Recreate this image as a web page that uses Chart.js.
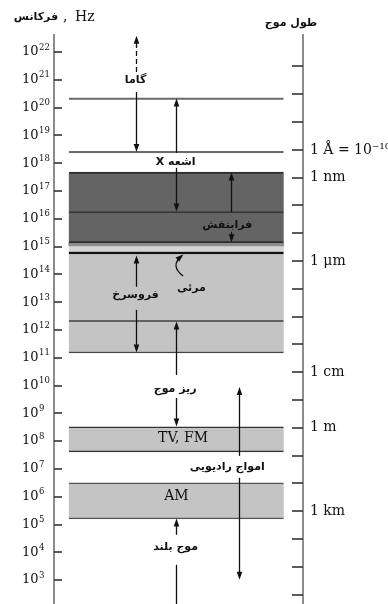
<!DOCTYPE html>
<html>
<head>
<meta charset="utf-8">
<script src="https://cdn.jsdelivr.net/npm/chart.js@4.4.1/dist/chart.umd.min.js"></script>
<style>
  html, body { margin: 0; padding: 0; background: #fff; }
</style>
</head>
<body>
<canvas id="chart" width="388" height="604"></canvas>
<script>
// frequency axis: powers of ten (Hz)
let freqExps = [3, 4, 5, 6, 7, 8, 9, 10, 11, 12, 13, 14, 15, 16, 17, 18, 19, 20, 21, 22];
// wavelength axis: powers of ten (m), f = c / lambda
let waveExps = [-13, -12, -11, -10, -9, -8, -7, -6, -5, -4, -3, -2, -1, 0, 1, 2, 3, 4, 5, 6];
let waveLabels = ['', '', '', '1 Å = 10⁻¹⁰m', '1 nm', '', '', '1 μm', '', '', '', '1 cm', '', '1 m', '', '', '1 km', '', '', ''];
const LOG_C = Math.log10(2.998e8);

// bands, as log10 of frequency
let bands = ['gamma-x', 'x-uv', 'uv', 'violet', 'visible', 'ir-near', 'ir-far', 'tv-fm', 'am'];
let bandLow = [18.37, 16.24, 15.13, 15.02, 14.73, 12.32, 11.17, 7.61, 5.20];
let bandHigh = [20.35, 17.68, 16.24, 15.13, 15.02, 14.73, 12.32, 8.51, 6.50];
let bandFill = ['rgba(0,0,0,0)', '#646464', '#646464', '#8e8e8e', '#d4d4d4', '#c4c4c4', '#c4c4c4', '#c4c4c4', '#c4c4c4'];
let bandEdge = ['#6a6a6a', '#2e2e2e', '#2e2e2e', '#2e2e2e', '#111', '#444', '#444', '#333', '#555'];
let bandEdgeW = [
  {top: 1.5, bottom: 1.5, left: 0, right: 0},
  {top: 2, bottom: 1, left: 0, right: 0},
  {top: 1, bottom: 2, left: 0, right: 0},
  {top: 0, bottom: 0, left: 0, right: 0},
  {top: 0, bottom: 2.5, left: 0, right: 0},
  {top: 0, bottom: 1, left: 0, right: 0},
  {top: 1, bottom: 1.5, left: 0, right: 0},
  {top: 1.5, bottom: 1.5, left: 0, right: 0},
  {top: 1.5, bottom: 1.5, left: 0, right: 0}
];

// names and where they sit (log10 f)
let names = ['گاما', 'اشعه X', 'فرابنفش', 'مرئی', 'فروسرخ', 'ریز موج', 'TV, FM', 'امواج رادیویی', 'AM', 'موج بلند'];
let nameAt = [20.99, 18.04, 15.78, 13.51, 13.26, 9.88, 8.11, 7.07, 6.03, 4.19];
let nameCol = [29.3, 48.6, 73.5, 56.2, 29.3, 48.4, 52.2, 73.5, 49, 48.6];
let nameLatin = [false, false, false, false, false, false, true, false, true, false];

// arrows, from -> to (log10 f), head at "to"
let arrowFrom = [21.28, 20.56, 18.37, 17.83, 16.24, 15.53, 13.55, 12.72, 10.38, 9.55, 7.47, 6.68, 4.63, 3.55];
let arrowTo = [22.58, 18.40, 20.33, 16.26, 17.66, 15.15, 14.68, 11.19, 12.30, 8.53, 9.95, 3.01, 5.22, 2.14];
let arrowCol = [29.3, 29.3, 49, 49, 75.1, 75.1, 29.3, 29.3, 49, 49, 79.1, 79.1, 49, 49];
let arrowDash = [true, false, false, false, false, false, false, false, false, false, false, false, false, false];
let arrowHead = [true, true, true, true, true, true, true, true, true, true, true, true, true, false];

// bent pointer to the visible strip
let curveX = [52.2, 45.8, 51.4];
let curveY = [13.94, 14.30, 14.66];

const BAND_COL = 48.9;
const PERSIAN = 'bold 11px "DejaVu Sans"';

function head(ctx, x, y, dx, dy) {
  const len = Math.hypot(dx, dy);
  const ux = dx / len, uy = dy / len;
  ctx.beginPath();
  ctx.moveTo(x, y);
  ctx.lineTo(x - ux * 8 - uy * 2.8, y - uy * 8 + ux * 2.8);
  ctx.lineTo(x - ux * 8 + uy * 2.8, y - uy * 8 - ux * 2.8);
  ctx.closePath();
  ctx.fill();
}

const overlay = {
  id: 'overlay',
  afterDraw(chart) {
    const {ctx, chartArea: a, scales: {x, y, y2}} = chart;
    ctx.save();

    // tick marks point inward
    ctx.strokeStyle = '#333';
    ctx.lineWidth = 1.6;
    y.ticks.forEach(t => {
      const py = Math.round(y.getPixelForValue(t.value));
      ctx.beginPath(); ctx.moveTo(a.left, py); ctx.lineTo(a.left + 8, py); ctx.stroke();
    });
    y2.ticks.forEach(t => {
      const py = Math.round(y2.getPixelForValue(t.value));
      ctx.beginPath(); ctx.moveTo(a.right - 11, py); ctx.lineTo(a.right, py); ctx.stroke();
    });

    // 10^n labels on the frequency axis
    ctx.fillStyle = '#111';
    ctx.textBaseline = 'middle';
    ctx.textAlign = 'left';
    y.ticks.forEach(t => {
      const py = y.getPixelForValue(t.value);
      ctx.font = '13px "DejaVu Serif"';
      ctx.fillText('10', 22, py);
      const w = ctx.measureText('10').width;
      ctx.font = '8.5px "DejaVu Serif"';
      ctx.fillText(String(t.value), 22 + w + 0.5, py - 4.5);
    });

    // arrows
    ctx.strokeStyle = '#111';
    ctx.lineWidth = 1.3;
    arrowFrom.forEach((f, i) => {
      const px = Math.round(x.getPixelForValue(arrowCol[i])) + 0.5;
      const p0 = y.getPixelForValue(f);
      const p1 = y.getPixelForValue(arrowTo[i]);
      const dir = Math.sign(p1 - p0);
      ctx.setLineDash(arrowDash[i] ? [5, 3] : []);
      ctx.beginPath();
      ctx.moveTo(px, p0);
      ctx.lineTo(px, arrowHead[i] ? p1 - dir * 6 : p1);
      ctx.stroke();
      ctx.setLineDash([]);
      if (arrowHead[i]) head(ctx, px, p1, 0, dir);
    });

    const cx = curveX.map(v => x.getPixelForValue(v));
    const cy = curveY.map(v => y.getPixelForValue(v));
    ctx.beginPath();
    ctx.moveTo(cx[0], cy[0]);
    ctx.quadraticCurveTo(cx[1], cy[1], cx[2], cy[2]);
    ctx.stroke();
    head(ctx, cx[2] + 2, cy[2] - 1.5, cx[2] - cx[1], cy[2] - cy[1]);

    // names
    ctx.textAlign = 'center';
    names.forEach((n, i) => {
      ctx.font = nameLatin[i] ? '14px "DejaVu Serif"' : PERSIAN;
      ctx.direction = nameLatin[i] ? 'ltr' : 'rtl';
      ctx.fillText(n, x.getPixelForValue(nameCol[i]), y.getPixelForValue(nameAt[i]));
    });

    // axis headers
    ctx.direction = 'rtl';
    ctx.font = PERSIAN;
    ctx.fillText('فرکانس', 36, a.top - 18);
    ctx.fillText('طول موج', a.right - 12, a.top - 12);
    ctx.direction = 'ltr';
    ctx.font = '14px "DejaVu Serif"';
    ctx.textAlign = 'left';
    ctx.fillText(',', 63, a.top - 18);
    ctx.fillText('Hz', 75, a.top - 18);
    ctx.restore();
  }
};

new Chart('chart', {
  type: 'bar',
  data: {
    datasets: bands.map((b, i) => ({
      label: b,
      data: [{x: BAND_COL, y: [bandLow[i], bandHigh[i]]}],
      backgroundColor: bandFill[i],
      borderColor: bandEdge[i],
      borderWidth: bandEdgeW[i],
      borderSkipped: false,
      grouped: false,
      barThickness: 215
    }))
  },
  options: {
    responsive: false,
    animation: false,
    devicePixelRatio: 1,
    layout: {padding: {top: 35, left: 0, right: 0, bottom: 0}},
    plugins: {legend: {display: false}, tooltip: {enabled: false}},
    scales: {
      x: {type: 'linear', min: 0, max: 100, display: false},
      y: {
        type: 'linear', position: 'left', min: 2.14, max: 22.61,
        grid: {display: false, drawTicks: false},
        border: {display: true, color: '#8c8c8c', width: 2},
        ticks: {autoSkip: false, callback: () => ''},
        afterBuildTicks: s => { s.ticks = freqExps.map(v => ({value: v})); },
        afterFit: s => { s.width = 54; s.paddingTop = 0; s.paddingBottom = 0; }
      },
      y2: {
        type: 'linear', position: 'right', min: 2.14, max: 22.61,
        grid: {display: false, drawTicks: false},
        border: {display: true, color: '#8c8c8c', width: 2},
        ticks: {
          autoSkip: false, padding: 7, color: '#111',
          font: {family: '"DejaVu Serif"', size: 14},
          callback: (v, i) => waveLabels[i]
        },
        afterBuildTicks: s => { s.ticks = waveExps.map(k => ({value: LOG_C - k})); },
        afterFit: s => { s.width = 85; s.paddingTop = 0; s.paddingBottom = 0; }
      }
    }
  },
  plugins: [overlay]
});
</script>
</body>
</html>
